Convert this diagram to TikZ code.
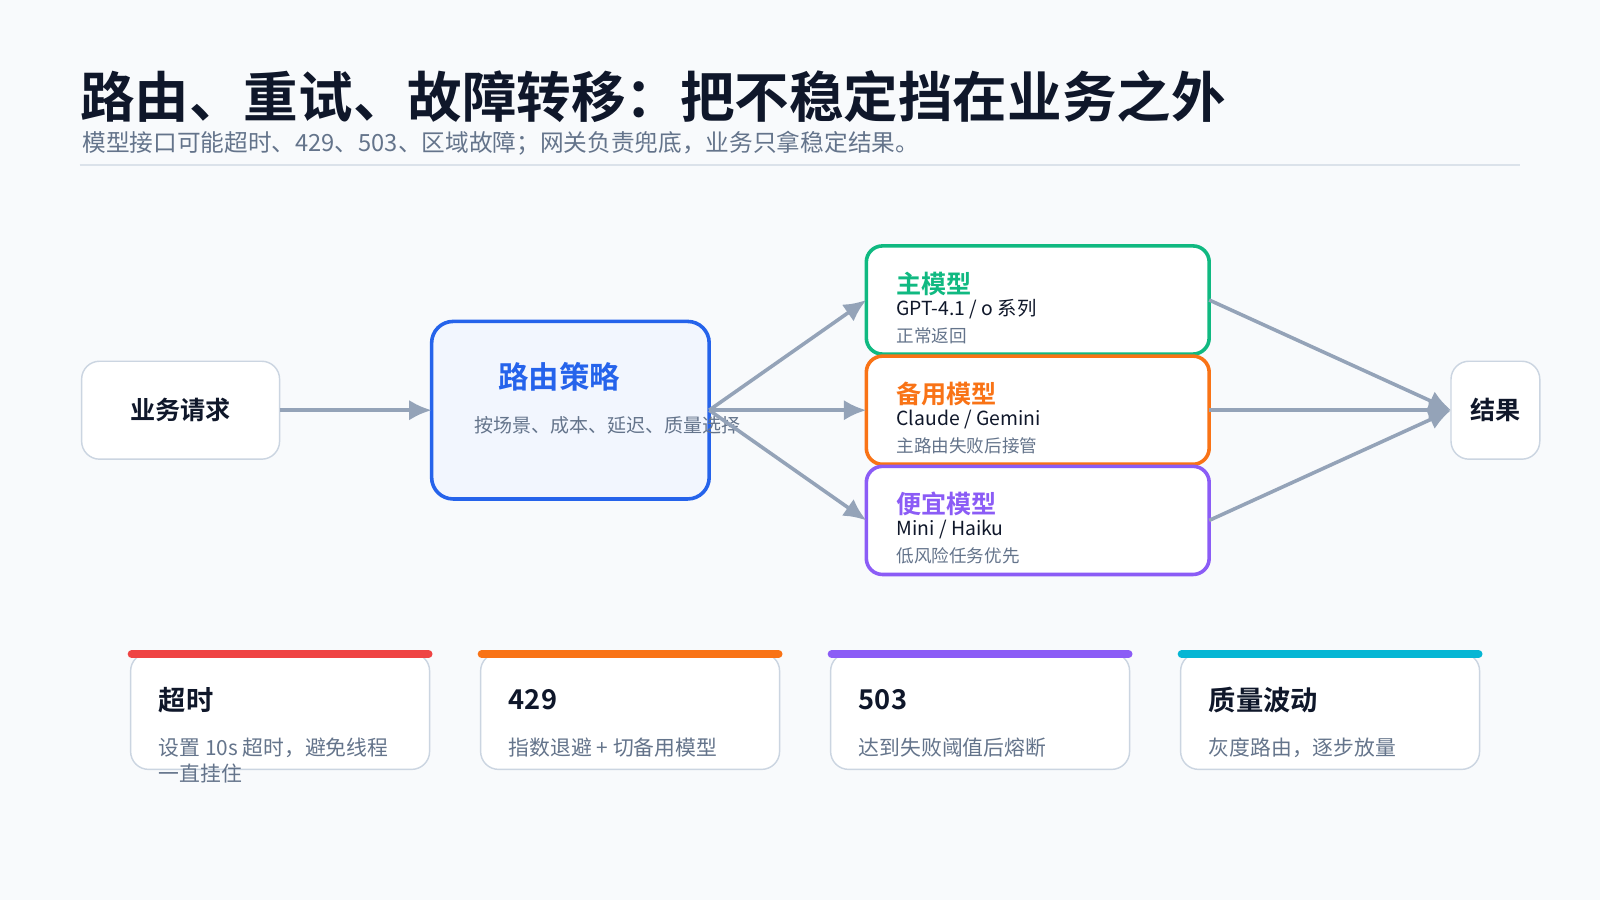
\documentclass[tikz,border=0pt]{standalone}
\usepackage{fontspec}
\setmainfont{Noto Sans CJK SC}[BoldFont={Noto Sans CJK SC Bold}]
\usetikzlibrary{arrows.meta,positioning,calc}
\definecolor{bgc}{HTML}{F8FAFC}
\definecolor{ink}{HTML}{0F172A}
\definecolor{muted}{HTML}{64748B}
\definecolor{edge}{HTML}{CBD5E1}
\definecolor{arr}{HTML}{94A3B8}
\definecolor{blu}{HTML}{2563EB}
\definecolor{grn}{HTML}{10B981}
\definecolor{org}{HTML}{F97316}
\definecolor{pur}{HTML}{8B5CF6}
\definecolor{rd}{HTML}{EF4444}
\definecolor{cyn}{HTML}{06B6D4}
\tikzset{
    box/.style={draw=edge, fill=white, rounded corners=5pt, line width=0.4pt},
    model/.style={draw=#1, fill=white, rounded corners=4.5pt, line width=1pt},
    flow/.style={-{Latex[length=2.2mm, width=2mm]}, arr, line width=1pt},
    bar/.style={line width=2.2pt, #1, line cap=round}
}
\begin{document}
\begin{tikzpicture}[x=0.01cm, y=-0.01cm]
    \fill[bgc] (0,0) rectangle (1568,882);
    \useasboundingbox (0,0) rectangle (1568,882);

    % heading
    \node[anchor=base west, inner sep=0, font=\fontsize{15.2}{18}\selectfont\bfseries, text=ink] (title) at (78,115) {路由、重试、故障转移：把不稳定挡在业务之外};
    \node[anchor=base west, inner sep=0, font=\fontsize{6.6}{8}\selectfont, text=muted] (sub) at (80,148) {模型接口可能超时、429、503、区域故障；网关负责兜底，业务只拿稳定结果。};
    \draw[edge!70, line width=0.6pt] (78,162) -- (1490,162);

    % request and router
    \draw[box] (80,354) rectangle (274,450);
    \node[font=\fontsize{7}{8}\selectfont\bfseries, text=ink] (req) at (177,402) {业务请求};
    \coordinate (reqE) at (274,402);
    \draw[fill=blu!6, draw=blu, line width=1pt, rounded corners=6pt] (423,315) rectangle (695,489);
    \node[font=\fontsize{8.5}{10}\selectfont\bfseries, text=blu] (route) at (548,369) {路由策略};
    \node[font=\fontsize{5.3}{6}\selectfont, text=muted] (routeSub) at (595,417) {按场景、成本、延迟、质量选择};
    \coordinate (routeW) at (423,402);
    \coordinate (routeE) at (695,402);

    % models
    \draw[model=grn] (849,241) rectangle (1185,347);
    \draw[model=org] (849,349) rectangle (1185,455);
    \draw[model=pur] (849,457) rectangle (1185,563);
    \foreach \y/\c/\name/\t/\d [count=\i] in {278/grn/主模型/{GPT-4.1 / o 系列}/正常返回,
            386/org/备用模型/{Claude / Gemini}/主路由失败后接管,
            494/pur/便宜模型/{Mini / Haiku}/低风险任务优先}{
        \node[anchor=west, inner sep=0, font=\fontsize{7}{8}\selectfont\bfseries, text=\c] (m\i) at (878,\y) {\name};
        \node[anchor=west, inner sep=0, font=\fontsize{5.4}{6}\selectfont, text=ink] (m\i a) at (878,\y+25) {\t};
        \node[anchor=west, inner sep=0, font=\fontsize{4.9}{6}\selectfont, text=muted] (m\i b) at (878,\y+51) {\d};
        \coordinate (m\i W) at (849,\y+16);
        \coordinate (m\i E) at (1185,\y+16);
    }

    % result
    \draw[box] (1422,354) rectangle (1509,450);
    \node[font=\fontsize{7}{8}\selectfont\bfseries, text=ink] (res) at (1466,402) {结果};
    \coordinate (resW) at (1422,402);

    \draw[flow] (reqE) -- (routeW);
    \foreach \i in {1,2,3}{
        \draw[flow] (routeE) -- (m\i W);
        \draw[flow] (m\i E) -- (resW);
    }

    % failure cards
    \foreach \x/\c/\h/\b [count=\i] in {128/rd/超时/{设置 10s 超时，避免线程\\一直挂住},
            471/org/429/指数退避 + 切备用模型,
            814/pur/503/达到失败阈值后熔断,
            1157/cyn/质量波动/灰度路由，逐步放量}{
        \draw[box] (\x,640) rectangle (\x+293,754);
        \draw[bar=\c] (\x+1,641) -- (\x+292,641);
        \node[anchor=west, inner sep=0, font=\fontsize{7.6}{9}\selectfont\bfseries, text=ink] (c\i) at (\x+27,686) {\h};
        \node[anchor=north west, inner sep=0, align=left, font=\fontsize{5.8}{7.4}\selectfont, text=muted] (c\i b) at (\x+27,722) {\b};
    }
\end{tikzpicture}
\end{document}
